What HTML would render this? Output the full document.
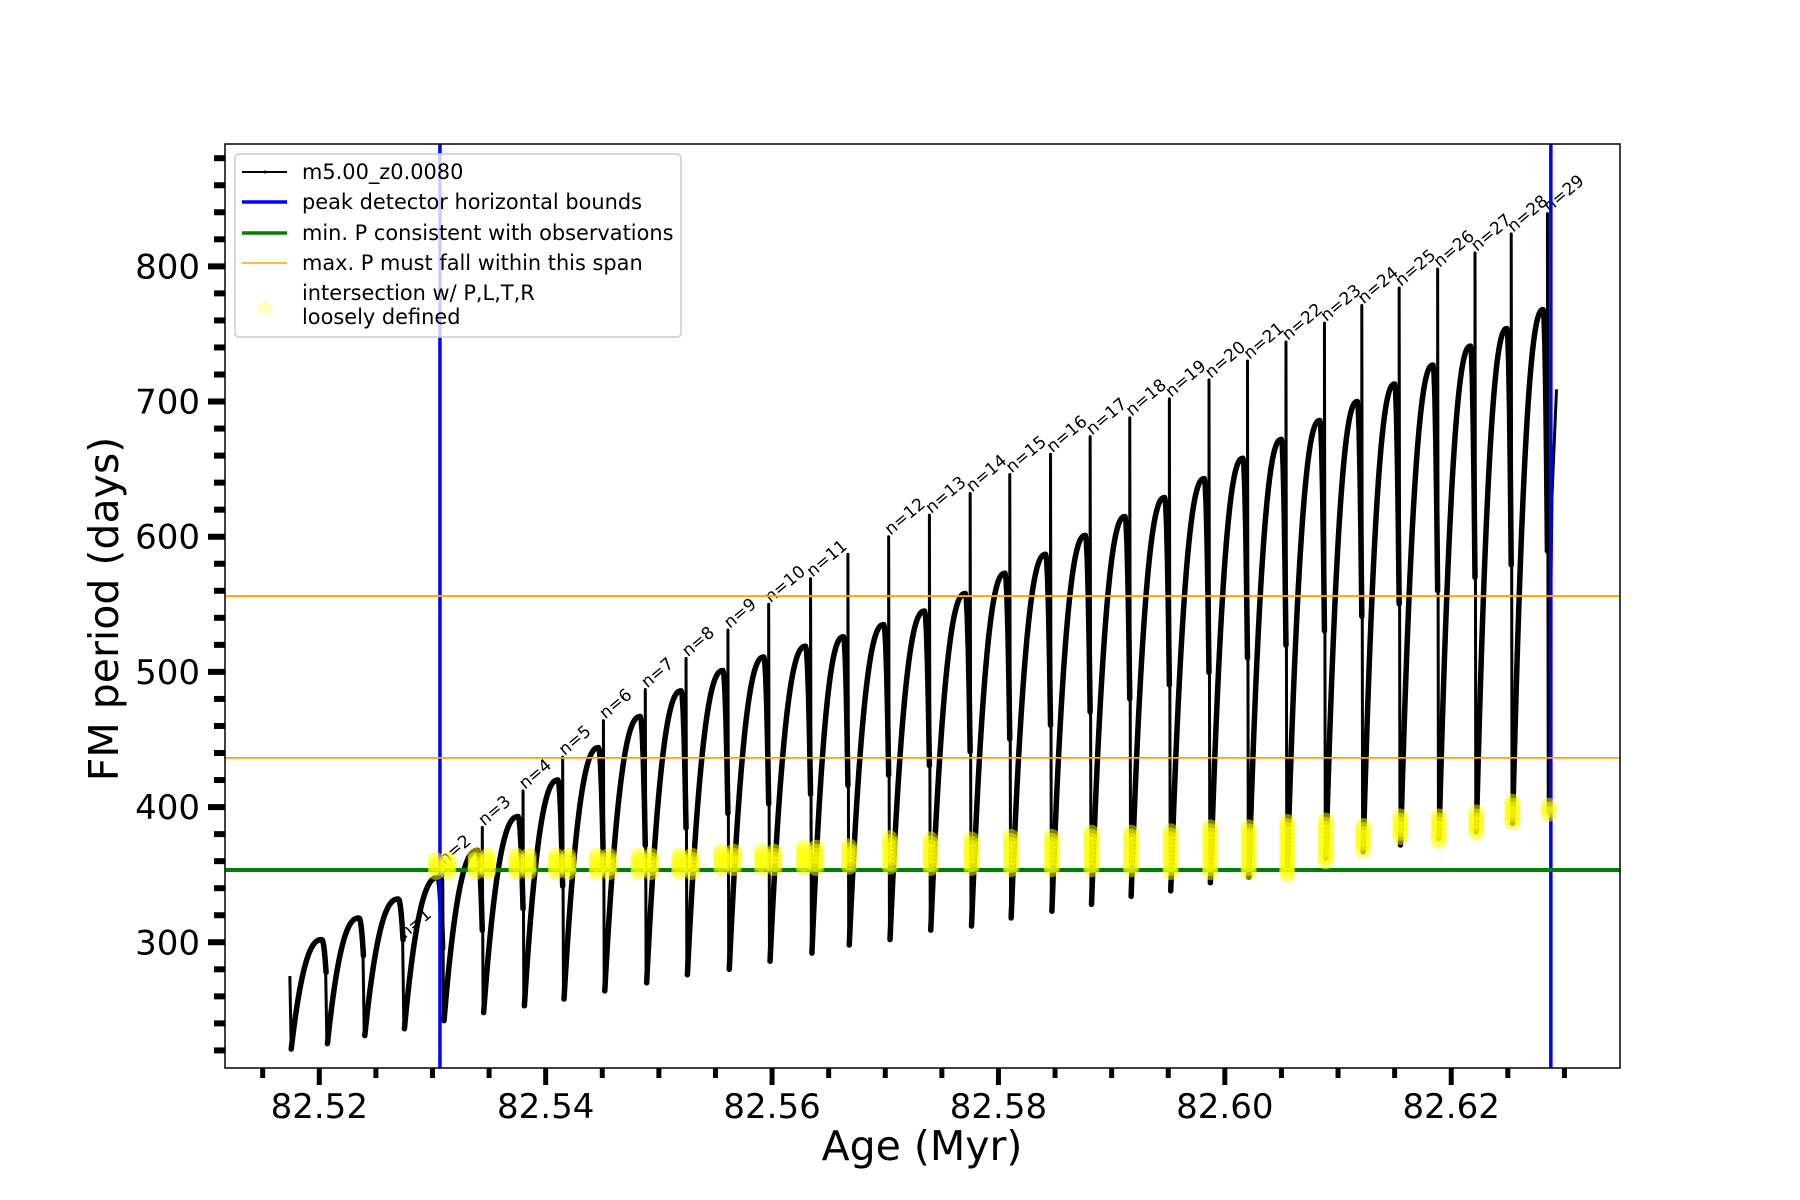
<!DOCTYPE html>
<html><head><meta charset="utf-8"><style>
html,body{margin:0;padding:0;background:#fff;}
svg{display:block;font-family:"DejaVu Sans","Liberation Sans",sans-serif;}
</style></head><body>
<svg id="chart" width="1800" height="1200" viewBox="0 0 1800 1200" xmlns="http://www.w3.org/2000/svg">
<rect x="0" y="0" width="1800" height="1200" fill="#fff"/>
<g id="plot"></g>
<g id="axes"></g>
<g id="legend">
  <rect x="235" y="154" width="446" height="183" rx="4" fill="#fff" fill-opacity="0.8" stroke="#cccccc" stroke-width="1.5"/>
  <g>
    <line x1="242" y1="172" x2="287" y2="172" stroke="#000" stroke-width="2"/>
    <circle cx="265" cy="172" r="1.5" fill="#000"/>
    <text x="302" y="179" font-size="20.9">m5.00_z0.0080</text>
  </g>
  <g>
    <line x1="242" y1="202" x2="287" y2="202" stroke="#0000ff" stroke-width="3.5"/>
    <text x="302" y="209" font-size="20.9">peak detector horizontal bounds</text>
  </g>
  <g>
    <line x1="242" y1="233" x2="287" y2="233" stroke="#008000" stroke-width="3.5"/>
    <text x="302" y="240" font-size="20.9">min. P consistent with observations</text>
  </g>
  <g>
    <line x1="242" y1="263" x2="287" y2="263" stroke="#ffa500" stroke-width="1.5"/>
    <text x="302" y="270" font-size="20.9">max. P must fall within this span</text>
  </g>
  <g>
    <circle cx="265" cy="308" r="7" fill="#ffff00" fill-opacity="0.25"/>
    <text x="302" y="300" font-size="20.9">intersection w/ P,L,T,R</text>
    <text x="302" y="324" font-size="20.9">loosely defined</text>
  </g>
</g>
</svg>
<script>
// ---- data ----
const pulseAges = [82.5174,82.5206,82.5239,82.5274,82.5309,82.5344,82.5380,82.5415,82.5451,82.5488,82.5524,82.5561,82.5597,82.5634,82.5667,82.5703,82.5739,82.5775,82.5810,82.5846,82.5881,82.5916,82.5951,82.5986,82.6020,82.6054,82.6088,82.6121,82.6154,82.6188,82.6221,82.6253,82.6285];
const pulseLabels = ["","","","n=1","n=2","n=3","n=4","n=5","n=6","n=7","n=8","n=9","n=10","n=11","","n=12","n=13","n=14","n=15","n=16","n=17","n=18","n=19","n=20","n=21","n=22","n=23","n=24","n=25","n=26","n=27","n=28","n=29"];
const spikeTops = [275,null,null,null,356,385,412,437,464,487,510,531,550,569,587,600,616,632,646,661,674,688,702,716,730,744,758,771,784,798,810,824,839];
const dipMins = [221,225,231,236,242,248,253,258,264,270,276,280,286,292,298,302,309,312,318,323,328,334,338,344,348,355,362,367,372,377,382,388,395];
const arcPeaks = [null,302,318,332,348,368,393,420,444,467,486,501,511,519,526,535,545,558,573,587,601,615,629,643,658,672,686,700,713,727,741,754,768];
const tailAges = [82.6289,82.6293];
const tailValues = [630,709];
const yellowLo = [null,null,null,null,352,352,352,352,352,352,352,355,355,355,356,356,355,355,354,354,354,354,352,352,352,350,360,368,378,375,381,389,395];
const yellowHi = [null,null,null,null,362,365,365,366,366,366,366,368,368,370,372,377,378,378,380,380,382,382,384,385,386,390,391,388,393,395,396,404,401];
const boundAges = [82.53066,82.6288];
const minP = [353.5];
const maxPSpan = [556.1,436.4];
const xMajorTicks = [82.52,82.54,82.56,82.58,82.60,82.62];
const xTickLabels = ["82.52","82.54","82.56","82.58","82.60","82.62"];
const yMajorTicks = [300,400,500,600,700,800];
const yTickLabels = ["300","400","500","600","700","800"];

// ---- scales ----
const X0=225,X1=1620,Y0=1068,Y1=144;
const AMIN=82.51167,AMAX=82.63491,PMIN=207,PMAX=890.5;
function xs(a){return X0+(a-AMIN)/(AMAX-AMIN)*(X1-X0);}
function ys(v){return Y0-(v-PMIN)/(PMAX-PMIN)*(Y0-Y1);}
const NS="http://www.w3.org/2000/svg";
const plot=document.getElementById('plot');
const axes=document.getElementById('axes');
function mk(tag,attrs,parent){const e=document.createElementNS(NS,tag);for(const k in attrs)e.setAttribute(k,attrs[k]);parent.appendChild(e);return e;}

// ---- curve ----
let arcD="", vertD="";
const eps=0.00012;
for(let i=0;i<pulseAges.length;i++){
  const a=pulseAges[i];
  if(i===0){
    vertD+=`M${xs(a)},${ys(spikeTops[0])}L${xs(a+eps)},${ys(dipMins[0])}`;
  } else {
    const drop = spikeTops[i]===null ? null : arcPeaks[i]-0.47*(arcPeaks[i]-dipMins[i-1]);
    if(spikeTops[i]!==null){
      vertD+=`M${xs(a)},${ys(drop)}L${xs(a)},${ys(Math.max(spikeTops[i],drop))}L${xs(a+eps*0.6)},${ys(dipMins[i])}`;
    } else {
      vertD+=`M${xs(a-eps*0.3)},${ys(arcPeaks[i]-0.3*(arcPeaks[i]-dipMins[i-1]))}L${xs(a+eps*0.6)},${ys(dipMins[i])}`;
    }
  }
  if(i<pulseAges.length-1){
    const a0=a+eps, a1=pulseAges[i+1];
    const D=dipMins[i], P=arcPeaks[i+1];
    const dropEnd = spikeTops[i+1]===null ? P-0.3*(P-D) : P-0.47*(P-D);
    let pts=[];
    const N=40;
    for(let k=0;k<=N;k++){
      const u=k/N;
      let v,t;
      if(u<=0.88){ const w=u/0.88; t=a0+u*(a1-a0); v=D+(P-D)*(1-Math.pow(1-w,2.4)); }
      else { const w=(u-0.88)/0.12; t=a0+u*(a1-a0); v=P-(P-dropEnd)*Math.pow(w,2); }
      pts.push(`${xs(t).toFixed(2)},${ys(v).toFixed(2)}`);
    }
    arcD+="M"+pts.join("L");
  } else {
    vertD+=`M${xs(a+eps*0.6)},${ys(dipMins[i])}`;
    for(let k=0;k<tailAges.length;k++) vertD+=`L${xs(tailAges[k])},${ys(tailValues[k])}`;
  }
}
const vp=mk('path',{d:vertD,fill:'none',stroke:'#000','stroke-width':3,'stroke-linejoin':'round'},plot);


const ap=mk('path',{d:arcD,fill:'none',stroke:'#000','stroke-width':5.5,'stroke-linecap':'round','stroke-linejoin':'round'},plot);



// pulse labels
for(let i=0;i<pulseAges.length;i++){
  if(!pulseLabels[i]) continue;
  let v = spikeTops[i]!==null ? spikeTops[i] : arcPeaks[i]-0.3*(arcPeaks[i]-dipMins[i-1]);
  const x=xs(pulseAges[i])+2, y=ys(v)-1;
  const t=mk('text',{x:x,y:y,'font-size':17,transform:`rotate(-40 ${x} ${y})`},plot);
  t.textContent=pulseLabels[i];
  
  
}

// bound lines
for(const b of boundAges){
  const l=mk('line',{x1:xs(b),x2:xs(b),y1:Y1,y2:Y0,stroke:'#0000ff','stroke-width':3.5},plot);
  
  
}
for(const m of minP){
  const l=mk('line',{x1:X0,x2:X1,y1:ys(m),y2:ys(m),stroke:'#008000','stroke-width':4},plot);
  
  
}
for(const m of maxPSpan){
  const l=mk('line',{x1:X0,x2:X1,y1:ys(m),y2:ys(m),stroke:'#ffa500','stroke-width':1.8},plot);
  
  
}
// yellow intersection dots
for(let i=0;i<pulseAges.length;i++){
  if(yellowLo[i]===null) continue;
  const offs = i<=13 ? [-0.0006,0.0005] : [0.0001];
  for(const o of offs){
    for(let v=yellowLo[i]; v<=yellowHi[i]+0.01; v+=3){
      const c=mk('circle',{cx:xs(pulseAges[i]+o),cy:ys(v),r:8,fill:'#ffff00','fill-opacity':0.5},plot);
      
      
    }
  }
}

// ---- axes ----
const fr=mk('rect',{x:X0,y:Y1,width:X1-X0,height:Y0-Y1,fill:'none',stroke:'#000','stroke-width':1.5},axes);


for(let k=0;k<=23;k++){
  const a=82.515+k*0.005;
  const major=xMajorTicks.some(m=>Math.abs(m-a)<1e-6);
  const l=mk('line',{x1:xs(a),x2:xs(a),y1:Y0,y2:Y0+(major?17:10),stroke:'#000','stroke-width':5},axes);
  
  
}
xMajorTicks.forEach((a,i)=>{
  const t=mk('text',{x:xs(a),y:1118,'font-size':34,'text-anchor':'middle'},axes);
  t.textContent=xTickLabels[i];
  
  
});
for(let v=220; v<=880; v+=20){
  const major=yMajorTicks.includes(v);
  const l=mk('line',{x1:X0-(major?17:11),x2:X0,y1:ys(v),y2:ys(v),stroke:'#000','stroke-width':6},axes);
  
  
}
yMajorTicks.forEach((v,i)=>{
  const t=mk('text',{x:200,y:ys(v)+12,'font-size':34,'text-anchor':'end'},axes);
  t.textContent=yTickLabels[i];
  
  
});
const xt=mk('text',{x:922,y:1160,'font-size':41,'text-anchor':'middle'},axes);
xt.textContent='Age (Myr)';


const yt=mk('text',{x:118,y:609,'font-size':41,'text-anchor':'middle',transform:'rotate(-90 118 609)'},axes);
yt.textContent='FM period (days)';


</script>
</body></html>
